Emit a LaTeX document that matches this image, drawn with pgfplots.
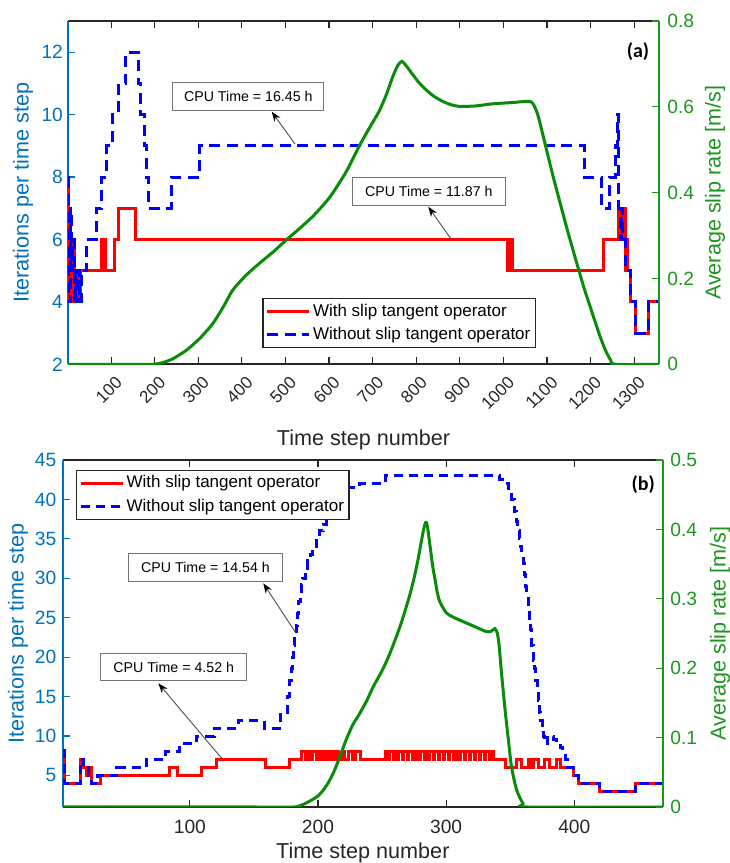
\documentclass[border=0pt]{standalone}
\usepackage{fontspec}
\setmainfont{Liberation Sans}
\newfontfamily\carlito{Carlito}
\usepackage{pgfplots}
\pgfplotsset{compat=1.18}
\usetikzlibrary{arrows.meta}

\definecolor{lblue}{RGB}{0,114,189}
\definecolor{rgreen}{RGB}{30,150,30}
\definecolor{lgreen}{RGB}{10,140,10}
\definecolor{xgray}{RGB}{38,38,38}

\pgfplotsset{
  common/.style={scale only axis, anchor=south west,
    /pgf/number format/assume math mode=true,
    /pgf/number format/1000 sep={},
    tick label style={font=\fontsize{9.6}{11}\selectfont, inner sep=0pt},
    label style={font=\fontsize{10.8}{13}\selectfont},
    major tick length=3.5pt,
    tick align=inside,
    every tick/.append style={line width=0.6pt},
  },
  leftax/.style={common, separate axis lines,
    x axis line style={xgray, line width=0.8pt},
    y axis line style={lblue, line width=0.8pt},
    xtick pos=both, ytick pos=left,
    xtick style={xgray}, ytick style={lblue},
    xticklabel style={xgray}, yticklabel style={lblue},
    xlabel style={xgray}, ylabel style={lblue},
    legend cell align=left,
    legend image code/.code={\draw[##1] (0pt,0pt) -- (21pt,0pt);},
    legend style={font=\fontsize{8.5}{10}\selectfont, draw=black!85, line width=0.6pt,
      fill=white, inner xsep=1.2pt, inner ysep=0.5pt, row sep=0pt,
      nodes={inner xsep=1.3pt, inner ysep=2pt}},
  },
  rightax/.style={common, axis x line=none, axis y line*=right,
    y axis line style={-, rgreen, line width=0.8pt},
    ytick style={rgreen}, yticklabel style={rgreen}, ylabel style={rgreen},
  },
  redl/.style={const plot, red, line width=1.5pt},
  bluel/.style={const plot, blue, line width=1.5pt},
  greenl/.style={lgreen, line width=1.5pt, smooth, tension=0.4},
}

\begin{document}
\begin{tikzpicture}
\useasboundingbox (0,0) rectangle (364.5pt,431.5pt);

% ---------------- panel (a) ----------------
\begin{axis}[leftax, at={(34pt,249.35pt)}, width=295.5pt, height=171.65pt,
  xmin=1, xmax=1357, ymin=2, ymax=13,
  xtick={100,200,...,1300}, ytick={2,4,...,12},
  xticklabel style={font=\fontsize{8.6}{10}\selectfont, xshift=4pt, yshift=-7.5pt, rotate=45, anchor=east},
  yticklabel style={xshift=-2.35pt},
  xlabel={Time step number}, ylabel={Iterations per time step},
  xlabel style={at={(axis description cs:0.5,-0.2215)}, anchor=center},
  ylabel style={at={(axis description cs:-0.0761,0.5)}, anchor=center},
  legend style={at={(0.329,0.0475)}, anchor=south west},
]
\addplot[redl] coordinates {(1,7.8)(2,4)(6,6)(9,5)(11,6)(13,4)(15,6)(17,5)(19,4)(23,5)(25,4)(29,5)(79,6)(82,5)(84,6)(88,5)(107,6)(118,7)(157,6)(1010,5)(1013,6)(1022,5)(1230,6)(1263,7)(1266,6)(1268,7)(1272,6)(1276,7)(1279,5)(1281,6)(1284,5)(1292,4)(1303,3)(1334,4)(1357,4)};
\addplot[bluel, dash pattern=on 5.5pt off 3.3pt] coordinates {(1,8)(2,4)(7,7)(10,5)(12,6)(15,4)(18,5)(20,4)(24,5)(27,4)(31,5)(44,6)(67,7)(78,8)(90,9)(103,10)(116,11)(134,12)(162,11)(168,10)(176,9)(180,8)(185,7)(238,8)(303,9)(1185,8)(1224,7)(1244,8)(1257,9)(1262,10)(1265,7)(1268,6)(1271,7)(1274,6)(1277,6)(1279,5)(1292,4)(1303,3)(1334,4)(1357,4)};
\legend{With slip tangent operator, Without slip tangent operator}
\end{axis}
\begin{axis}[rightax, at={(34pt,249.35pt)}, width=295.5pt, height=171.65pt,
  xmin=1, xmax=1357, ymin=0, ymax=0.8, ytick={0,0.2,0.4,0.6,0.8},
  yticklabel style={xshift=4pt},
  ylabel={Average slip rate [m/s]},
  ylabel style={at={(axis description cs:1.0948,0.5)}, anchor=center},
]
\addplot[greenl] coordinates {(1,0)(150,0)(196,0)(215,0.003)(240,0.012)(273,0.033)(305,0.062)(334,0.096)(358,0.135)(379,0.173)(410,0.208)(441,0.236)(472,0.262)(502,0.29)(533,0.317)(563,0.345)(590,0.375)(609,0.40)(640,0.45)(670,0.51)(695,0.555)(715,0.59)(732,0.63)(746,0.67)(758,0.697)(767,0.706)(776,0.697)(790,0.678)(805,0.658)(822,0.64)(840,0.625)(860,0.613)(880,0.605)(899,0.601)(935,0.602)(975,0.607)(1020,0.61)(1059,0.613)(1068,0.607)(1076,0.59)(1082,0.57)(1097,0.508)(1112,0.446)(1128,0.384)(1147,0.312)(1166,0.244)(1185,0.178)(1204,0.119)(1220,0.07)(1234,0.033)(1246,0.01)(1257,0)(1357,0)};
\end{axis}

% ---------------- panel (b) ----------------
\begin{axis}[leftax, at={(31.5pt,28pt)}, width=299.85pt, height=173.5pt,
  xmin=1, xmax=469, ymin=1, ymax=45,
  xtick={100,200,300,400}, ytick={5,10,...,45},
  xticklabel style={yshift=-6.5pt},
  yticklabel style={xshift=-3.15pt},
  xlabel={Time step number}, ylabel={Iterations per time step},
  xlabel style={at={(axis description cs:0.5,-0.1326)}, anchor=center},
  ylabel style={at={(axis description cs:-0.075,0.5)}, anchor=center},
  legend style={at={(0.0217,0.971)}, anchor=north west},
]
\addplot[redl] coordinates {(1,8.2)(2,4)(15,7)(16,6)(19,5)(21,6)(23,4)(30,5)(84,6)(90,5)(109,6)(121,7)(159,6)(178,7)(187,8)(190,7)(192,8)(194,7)(196,8)(199,7)(201,8)(203,7)(205,8)(207,7)(209,8)(211,7)(214,8)(216,7)(219,8)(221,7)(224,8)(227,7)(229,8)(233,7)(253,8)(255,7)(256,8)(259,7)(260,8)(262,7)(263,8)(266,7)(267,8)(270,7)(271,8)(274,7)(275,8)(278,7)(280,8)(283,7)(284,8)(286,7)(287,8)(290,7)(291,8)(294,7)(295,8)(298,7)(299,8)(302,7)(303,8)(306,7)(307,8)(310,7)(311,8)(314,7)(315,8)(318,7)(319,8)(322,7)(323,8)(326,7)(327,8)(330,7)(331,8)(334,7)(335,8)(337,7)(346,6)(355,7)(359,6)(364,7)(367,6)(368,7)(372,6)(377,7)(381,6)(386,7)(389,6)(399,5)(403,4)(420,3)(448,4)(469,4)};
\addplot[bluel, dash pattern=on 4.5pt off 3pt] coordinates {(1,8.2)(2,4)(15,7)(17,6)(21,5)(23,4)(28,5)(43,6)(66,7)(81,8)(92,9)(105,10)(119,11)(138,12)(158,11)(171,13)(176,15)(178,17)(179,18.5)(180,20)(181,21.5)(182,23)(183,24)(184,25.5)(185,27)(186,28)(187,29.2)(188,30)(190,31.3)(192,32.2)(194,33)(196,34)(199,35)(201,36)(204,36.8)(207,37.4)(211,38.5)(215,39.5)(219,40.5)(224,41.5)(232,42)(253,43)(342,42.5)(346,42)(349,41)(351,40)(353,38.5)(355,37.2)(356,36)(357,35)(358,34)(359,33)(360,31.9)(361,30.5)(362,29)(363,27.7)(364,26)(365,24.5)(366,23.5)(367,21.5)(368,19.6)(369,18.5)(370,17)(371,16)(372,14.5)(373,13)(374,12)(375,11)(376,10)(377,9)(379,10)(384,9.5)(386,9)(389,8.5)(391,8)(393,7)(395,6)(399,5)(403,4)(420,3)(448,4)(469,4)};
\legend{With slip tangent operator, Without slip tangent operator}
\end{axis}
\begin{axis}[rightax, at={(31.5pt,28pt)}, width=299.85pt, height=173.5pt,
  xmin=1, xmax=469, ymin=0, ymax=0.5, ytick={0,0.1,0.2,0.3,0.4,0.5},
  yticklabel style={xshift=3.65pt},
  ylabel={Average slip rate [m/s]},
  ylabel style={at={(axis description cs:1.0955,0.5)}, anchor=center},
]
\addplot[greenl] coordinates {(1,0)(150,0)(181,0)(186,0.002)(190,0.005)(196,0.011)(200,0.016)(204,0.024)(208,0.035)(212,0.049)(217,0.072)(222,0.097)(227,0.118)(232,0.133)(238,0.153)(243,0.173)(249,0.193)(254,0.212)(259,0.235)(264,0.26)(268,0.283)(272,0.308)(275,0.33)(278,0.356)(280,0.376)(282,0.396)(283.5,0.408)(284.5,0.41)(285.5,0.403)(287.5,0.375)(289.5,0.347)(291.4,0.327)(293,0.31)(295,0.296)(300,0.28)(305,0.274)(311,0.269)(321,0.261)(331,0.253)(335,0.253)(338,0.257)(340,0.25)(341.5,0.23)(343,0.197)(346,0.14)(348.6,0.0965)(351,0.058)(355,0.0245)(360,0.005)(364,0)(469,0)};
\end{axis}

% ---------------- annotations (pixel coordinates of the reference) ----------------
\begin{scope}[shift={(0pt,431.5pt)}, x=0.5pt, y=-0.5pt]
  \tikzset{cpubox/.style={draw=black!55, line width=0.5pt, fill=white, inner sep=0pt,
      font=\fontsize{7.1}{8}\selectfont},
    cpuarrow/.style={draw=black!70, line width=0.45pt, -{Stealth[length=5pt,width=3.6pt,color=black]}}}
  \node[cpubox, minimum width=75.5pt, minimum height=14pt] at (248.3,96.7) {CPU Time = 16.45 h};
  \draw[cpuarrow] (295,144) -- (271.7,111.7);
  \node[cpubox, minimum width=76.2pt, minimum height=14.3pt] at (428.8,191.7) {CPU Time = 11.87 h};
  \draw[cpuarrow] (451.7,240) -- (428.3,206.7);
  \node[cpubox, minimum width=77.2pt, minimum height=14.2pt] at (205.5,567.5) {CPU Time = 14.54 h};
  \draw[cpuarrow] (295,631.7) -- (263.3,583.3);
  \node[cpubox, minimum width=73pt, minimum height=13.7pt] at (173.7,667) {CPU Time = 4.52 h};
  \draw[cpuarrow] (221.7,758.3) -- (158.3,683.3);
  \node[font=\carlito\bfseries\fontsize{10}{12}\selectfont] at (638,52) {(a)};
  \node[font=\carlito\bfseries\fontsize{10}{12}\selectfont] at (643.3,485) {(b)};
\end{scope}
\end{tikzpicture}
\end{document}
